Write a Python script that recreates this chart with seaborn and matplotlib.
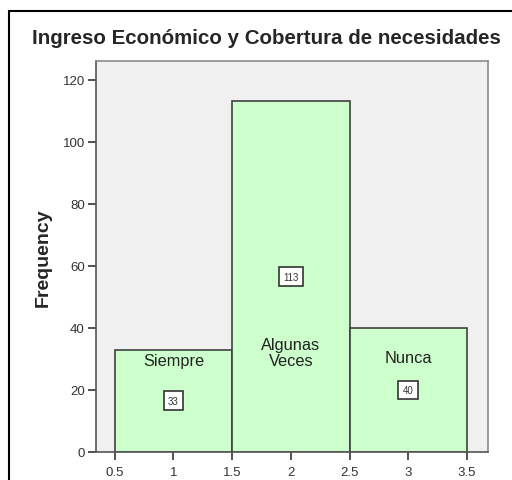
import matplotlib.pyplot as plt
import seaborn as sns
from matplotlib.patches import Rectangle

# values
codes = [1, 2, 3]
counts = [33, 113, 40]
names = ["Siempre", "Algunas\nVeces", "Nunca"]
name_y = [29.5, 32.0, 30.5]

sns.set_theme(style="white")
plt.rcParams["font.family"] = ["Liberation Sans", "DejaVu Sans"]

fig = plt.figure(figsize=(5.12, 4.81), dpi=100)
ax = fig.add_axes([96 / 512, 1 - 453 / 481, (488 - 96) / 512, (453 - 62) / 481])

sns.histplot(x=codes, weights=counts, discrete=True, ax=ax,
             color="#ccffcc", alpha=1, edgecolor="#404040", linewidth=1.2)

ax.set_facecolor("#f0f0f0")
ax.set_xlim(0.34, 3.68)
ax.set_ylim(0, 126)
ax.set_xticks([0.5, 1, 1.5, 2, 2.5, 3, 3.5])
ax.set_xticklabels(["0.5", "1", "1.5", "2", "2.5", "3", "3.5"])
ax.set_yticks([0, 20, 40, 60, 80, 100, 120])
ax.tick_params(axis="both", direction="out", length=6, width=1.2, color="#333333",
               labelsize=9.5, labelcolor="#333333", pad=2, left=True, bottom=True)
ax.tick_params(axis="x", pad=4)
for side in ["top", "right"]:
    ax.spines[side].set_color("#8c8c8c")
    ax.spines[side].set_linewidth(1.2)
for side in ["left", "bottom"]:
    ax.spines[side].set_color("#555555")
    ax.spines[side].set_linewidth(1.2)

ax.set_xlabel("")
ax.set_ylabel("Frequency", fontsize=14, fontweight="bold", labelpad=8)

for c, n, v, ny in zip(codes, counts, names, name_y):
    ax.text(c, ny, v, ha="center", va="center", fontsize=11.8, color="#222222",
            linespacing=1.05)
    ax.text(c, n / 2, str(n), ha="center", va="center", fontsize=7, color="#333333",
            bbox=dict(boxstyle="square,pad=0.45", fc="white", ec="#333333", lw=1.2))

fig.text(32 / 512, 1 - 38 / 481, "Ingreso Económico y Cobertura de necesidades",
         fontsize=14.8, fontweight="bold", ha="left", va="center")

fig.patches.append(Rectangle((9 / 512, -0.1), 1.2, 1 - 12 / 481 + 0.1,
                             transform=fig.transFigure, fill=False,
                             ec="black", lw=1.5, figure=fig))

fig.savefig("out.png", dpi=100)
